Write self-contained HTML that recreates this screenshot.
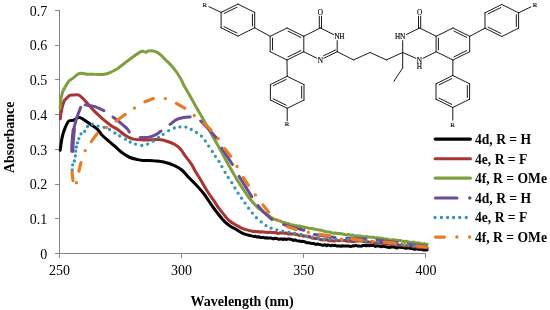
<!DOCTYPE html>
<html lang="en">
<head>
<meta charset="utf-8">
<title>UV-Vis absorbance spectra</title>
<style>
html,body{margin:0;padding:0;background:#fff;}
body{width:550px;height:310px;overflow:hidden;}
svg{display:block;}
</style>
</head>
<body>
<svg width="550" height="310" viewBox="0 0 550 310">
<rect width="550" height="310" fill="#fff"/>
<g stroke="#868686" stroke-width="1" fill="none" shape-rendering="crispEdges">
<path d="M59.5 10.2V253.5"/>
<path d="M59.5 253.5H425.9"/>
<path d="M55.3 253.5H60.0"/>
<path d="M55.3 218.8H60.0"/>
<path d="M55.3 184.1H60.0"/>
<path d="M55.3 149.4H60.0"/>
<path d="M55.3 114.6H60.0"/>
<path d="M55.3 79.9H60.0"/>
<path d="M55.3 45.2H60.0"/>
<path d="M55.3 10.5H60.0"/>
<path d="M59.5 253.5V257.7"/>
<path d="M181.6 253.5V257.7"/>
<path d="M303.8 253.5V257.7"/>
<path d="M425.9 253.5V257.7"/>
</g>
<g font-family="'Liberation Serif', 'Times New Roman', serif" font-size="14" fill="#000">
<text x="47.2" y="258.7" text-anchor="end">0</text>
<text x="47.2" y="224.0" text-anchor="end">0.1</text>
<text x="47.2" y="189.3" text-anchor="end">0.2</text>
<text x="47.2" y="154.6" text-anchor="end">0.3</text>
<text x="47.2" y="119.8" text-anchor="end">0.4</text>
<text x="47.2" y="85.1" text-anchor="end">0.5</text>
<text x="47.2" y="50.4" text-anchor="end">0.6</text>
<text x="47.2" y="15.7" text-anchor="end">0.7</text>
<text x="59.5" y="275.2" text-anchor="middle">250</text>
<text x="181.6" y="275.2" text-anchor="middle">300</text>
<text x="303.8" y="275.2" text-anchor="middle">350</text>
<text x="425.9" y="275.2" text-anchor="middle">400</text>
</g>
<g font-family="'Liberation Serif', 'Times New Roman', serif" font-weight="bold" font-size="14" fill="#000">
<text x="242.1" y="306" text-anchor="middle">Wavelength (nm)</text>
<text transform="translate(13.6 137.3) rotate(-90)" text-anchor="middle">Absorbance</text>
</g>
<g fill="none" stroke-linejoin="round" stroke-linecap="round" stroke-width="3.0">
<path d="M60.2 150.2C60.5 148.1 61.4 141.1 62.1 137.6C62.8 134.1 63.5 132.0 64.5 129.4C65.5 126.9 66.9 123.8 67.8 122.3C68.7 120.8 68.6 121.1 69.7 120.7C70.8 120.3 72.9 120.5 74.2 120.0C75.5 119.5 76.3 118.2 77.4 117.8C78.5 117.4 79.3 117.3 80.7 117.8C82.1 118.3 83.9 119.7 85.8 121.0C87.7 122.3 90.3 124.1 92.3 125.5C94.2 126.9 95.9 127.8 97.5 129.4C99.1 131.0 100.2 133.2 101.9 135.0C103.7 136.8 105.9 138.7 108.0 140.5C110.1 142.3 112.0 143.9 114.5 146.0C117.0 148.1 120.3 151.4 122.9 153.3C125.5 155.2 127.7 156.5 130.0 157.5C132.3 158.5 134.8 159.0 137.0 159.5C139.2 160.0 140.3 160.3 143.0 160.5C145.7 160.7 150.0 160.4 153.4 160.7C156.8 160.9 160.3 161.2 163.7 162.0C167.1 162.8 171.0 164.0 174.0 165.3C177.0 166.6 179.5 168.1 181.8 170.0C184.1 171.9 185.5 174.1 187.8 176.5C190.1 178.9 192.8 181.4 195.5 184.3C198.2 187.2 201.0 190.1 204.0 194.0C207.0 197.9 210.3 203.5 213.6 208.0C216.9 212.5 221.3 218.0 224.0 221.0C226.7 224.0 228.2 224.7 230.0 226.0C231.8 227.3 232.8 227.5 235.0 228.8C237.2 230.1 240.2 232.3 243.4 233.6C246.6 234.9 252.2 236.0 253.9 236.5L255.5 236.3L257.0 237.1L258.6 236.7L260.1 237.4L261.7 237.4L263.3 237.3L264.8 238.0L266.4 237.7L267.8 238.2L269.2 237.9L270.6 238.0L272.0 238.4L273.4 238.9L274.8 238.2L276.2 238.4L277.6 238.9L279.0 239.4L280.4 239.0L281.8 238.9L283.2 239.6L284.6 238.7L286.0 239.6L287.4 239.1L288.9 239.1L290.4 239.2L292.0 239.6L293.5 240.4L295.0 239.8L296.4 240.6L297.9 240.9L299.3 240.9L300.7 241.4L302.2 241.2L303.6 241.4L305.0 241.9L306.5 242.7L307.9 242.7L309.3 242.8L310.8 243.3L312.2 243.4L313.6 243.4L315.1 244.2L316.5 244.3L317.9 244.0L319.4 244.6L320.8 244.7L322.2 245.2L323.7 245.2L325.1 244.8L326.6 245.7L328.0 244.8L329.5 245.3L330.9 245.8L332.4 245.2L333.8 245.7L335.2 245.2L336.7 246.0L338.1 246.1L339.5 245.9L341.0 246.3L342.4 245.7L343.8 246.1L345.3 246.1L346.7 246.1L348.2 245.9L349.7 246.3L351.2 246.4L352.7 245.8L354.2 246.0L355.8 245.3L357.3 246.0L358.8 245.9L360.3 246.2L361.8 246.0L363.3 245.4L364.8 245.5L366.3 245.9L367.8 245.2L369.4 245.8L370.9 245.5L372.4 245.5L373.9 245.5L375.4 246.4L377.0 245.8L378.5 246.0L380.0 246.2L381.4 246.8L382.9 246.0L384.3 246.5L385.7 246.7L387.1 247.2L388.6 247.2L390.0 247.4L391.4 246.8L392.9 247.0L394.3 247.1L395.7 247.7L397.1 247.9L398.6 247.1L400.0 247.2L401.4 247.4L402.9 247.5L404.3 247.9L405.7 248.2L407.2 247.9L408.6 247.7L410.0 248.3L411.5 248.4L412.9 248.7L414.3 249.3L415.7 249.1L417.2 249.0L418.6 249.2L420.0 249.4L421.5 248.8L422.9 249.9L424.3 249.9L425.8 250.1L427.2 249.8" stroke="#000000"/>
<path d="M60.3 118.8C60.4 118.0 60.4 116.2 60.8 114.0C61.2 111.8 62.0 107.8 62.6 105.5C63.2 103.2 64.2 101.0 64.7 100.0C65.2 99.0 65.0 100.0 65.8 99.2C66.6 98.4 68.3 96.1 69.7 95.4C71.1 94.7 72.6 95.0 74.2 95.0C75.8 95.0 77.3 94.2 79.2 95.3C81.1 96.4 83.2 98.9 85.6 101.4C88.0 103.9 90.8 107.5 93.6 110.4C96.4 113.3 99.6 116.2 102.6 118.8C105.6 121.4 109.1 124.1 111.7 125.9C114.3 127.7 115.9 128.2 118.1 129.8C120.3 131.4 122.5 133.6 125.0 135.2C127.5 136.8 129.9 138.3 133.4 139.1C136.9 139.9 141.8 139.9 146.0 140.0C150.2 140.1 155.0 139.4 158.5 139.6C162.0 139.8 164.1 140.3 166.9 141.2C169.7 142.0 173.0 143.4 175.3 144.7C177.6 146.0 179.0 147.4 180.6 149.2C182.2 151.0 183.2 153.1 185.0 155.6C186.8 158.1 189.6 161.2 191.3 163.9C193.1 166.6 193.9 168.7 195.5 171.5C197.1 174.3 199.1 177.3 201.0 180.5C202.9 183.7 204.7 187.2 207.0 190.8C209.3 194.5 213.0 199.4 215.0 202.4C217.0 205.4 217.5 206.4 219.2 208.7C220.9 211.0 223.4 214.0 225.0 216.0C226.6 218.0 227.3 219.1 229.0 220.5C230.7 221.9 232.6 223.1 235.0 224.5C237.4 225.9 240.2 227.6 243.4 228.8C246.6 230.0 252.2 231.1 253.9 231.5L255.5 231.5L257.0 231.7L258.6 231.5L260.1 232.2L261.7 231.7L263.3 231.9L264.8 232.2L266.4 232.3L267.8 232.5L269.2 232.3L270.6 232.3L272.0 232.5L273.4 232.5L274.8 232.8L276.2 232.5L277.6 233.4L279.0 233.2L280.4 232.8L281.8 232.9L283.2 233.1L284.6 233.2L286.0 233.0L287.4 233.7L288.9 234.1L290.3 233.8L291.8 234.1L293.3 233.9L294.7 234.1L296.2 234.6L297.7 234.7L299.1 235.5L300.6 235.1L302.1 235.2L303.5 236.3L305.0 236.1L306.4 236.1L307.9 236.8L309.3 236.6L310.7 237.4L312.2 238.1L313.6 238.3L315.1 238.5L316.5 238.3L317.9 238.7L319.4 238.9L320.8 239.8L322.2 239.7L323.7 240.0L325.1 239.7L326.6 239.7L328.0 240.4L329.5 240.7L330.9 240.7L332.4 240.8L333.8 240.9L335.2 240.9L336.7 240.4L338.1 240.7L339.5 240.5L341.0 240.2L342.4 240.3L343.8 240.5L345.3 240.5L346.7 241.0L348.2 241.3L349.7 240.9L351.2 241.4L352.7 241.5L354.2 241.5L355.8 241.0L357.3 240.9L358.8 241.0L360.3 241.0L361.8 241.1L363.3 241.6L364.8 241.9L366.3 242.0L367.8 241.8L369.4 242.1L370.9 242.4L372.4 241.8L373.9 242.6L375.4 243.0L377.0 243.0L378.5 243.1L380.0 243.0L381.4 242.8L382.9 243.6L384.3 243.3L385.7 243.9L387.1 244.2L388.6 243.8L390.0 243.9L391.4 244.6L392.9 244.5L394.3 244.1L395.7 244.2L397.1 244.4L398.6 245.3L400.0 245.3L401.4 244.8L402.9 245.6L404.3 246.0L405.7 245.8L407.2 245.6L408.6 246.0L410.0 245.7L411.5 245.8L412.9 246.9L414.3 246.7L415.7 246.8L417.2 247.3L418.6 247.0L420.0 247.6L421.5 247.7L422.9 247.2L424.3 247.4L425.8 247.6L427.2 248.0" stroke="#a93431"/>
<path d="M60.1 108.3C60.2 107.1 60.5 103.1 60.8 101.0C61.1 98.9 61.3 97.2 61.7 95.5C62.1 93.8 62.5 92.2 63.0 91.0C63.5 89.8 64.1 89.0 64.6 88.0C65.1 87.0 65.4 86.4 66.2 85.2C67.0 84.0 68.1 81.9 69.2 80.7C70.3 79.5 71.7 79.2 73.1 78.1C74.5 77.0 76.2 75.0 77.6 74.2C79.0 73.4 79.9 73.3 81.5 73.3C83.1 73.3 85.0 74.0 87.3 74.2C89.5 74.4 92.4 74.2 95.0 74.3C97.6 74.3 100.4 74.7 102.8 74.5C105.2 74.3 106.9 73.8 109.3 72.9C111.7 72.0 115.2 70.0 117.0 69.0C118.8 68.0 118.2 68.1 120.0 66.7C121.8 65.3 125.2 62.8 127.8 60.8C130.4 58.8 133.1 56.6 135.5 55.0C137.9 53.4 140.3 51.8 142.0 51.3C143.7 50.8 144.7 52.3 145.8 52.2C146.9 52.1 147.2 51.1 148.4 50.9C149.6 50.7 151.7 51.0 153.0 51.1C154.3 51.2 155.0 51.2 156.2 51.8C157.4 52.3 158.6 53.1 160.1 54.4C161.6 55.7 163.3 57.6 165.2 59.5C167.1 61.4 169.8 63.8 171.7 66.0C173.6 68.2 175.1 70.0 176.8 72.5C178.5 75.0 180.7 78.6 181.8 80.7C183.0 82.8 182.4 82.6 183.7 85.0C185.0 87.4 188.1 92.4 189.5 94.9C190.9 97.4 191.4 98.3 192.3 100.0C193.2 101.7 193.4 102.1 195.0 104.9C196.6 107.7 198.9 111.7 201.8 116.8C204.7 121.9 209.2 130.0 212.3 135.6C215.4 141.2 218.0 145.6 220.6 150.3C223.2 155.0 224.7 158.2 228.0 163.9C231.3 169.7 236.6 179.0 240.2 184.8C243.8 190.6 246.6 194.7 249.6 198.5C252.6 202.3 256.6 206.3 258.0 207.9L259.4 209.1L260.9 209.9L262.3 211.1L263.8 212.0L265.3 213.5L266.8 214.1L268.2 215.2L269.7 216.3L271.2 217.6L272.7 218.2L274.2 219.2L275.7 219.5L277.2 220.1L278.7 220.7L280.2 221.0L281.7 221.9L283.2 222.3L284.7 222.5L286.2 223.5L287.7 223.4L289.2 224.0L290.7 224.6L292.2 224.9L293.7 225.1L295.1 225.5L296.5 225.8L297.9 226.2L299.4 226.0L300.8 226.6L302.2 226.6L303.6 226.9L305.0 227.5L306.4 227.6L307.9 227.9L309.3 228.3L310.7 228.6L312.2 228.6L313.6 229.0L315.1 229.1L316.5 229.4L317.9 229.8L319.4 229.9L320.8 230.2L322.2 230.5L323.7 231.2L325.1 231.3L326.6 231.8L328.0 232.1L329.5 232.0L330.9 232.5L332.4 233.1L333.8 233.3L335.2 233.0L336.7 233.2L338.1 233.6L339.5 233.5L341.0 233.8L342.4 233.8L343.8 234.4L345.3 234.6L346.7 234.9L348.2 234.5L349.7 235.1L351.2 235.2L352.7 235.0L354.2 235.7L355.8 235.9L357.3 235.6L358.8 236.3L360.3 236.0L361.8 236.3L363.3 236.8L364.8 236.8L366.3 236.5L367.8 236.9L369.4 237.1L370.9 237.2L372.4 237.2L373.9 237.5L375.4 237.9L377.0 237.6L378.5 238.2L380.0 238.3L381.4 238.1L382.9 238.5L384.3 238.9L385.7 239.0L387.1 238.9L388.6 239.7L390.0 239.8L391.4 240.1L392.9 239.6L394.3 239.9L395.7 239.9L397.1 240.6L398.6 240.5L400.0 240.5L401.4 240.9L402.9 241.4L404.3 241.6L405.7 241.3L407.2 241.4L408.6 242.2L410.0 242.1L411.5 242.4L412.9 242.1L414.3 242.3L415.7 242.9L417.2 242.9L418.6 242.8L420.0 243.6L421.5 243.6L422.9 243.9L424.3 243.6L425.8 244.3L427.2 244.2" stroke="#7f9f3e"/>
<path d="M72.3 151.0C72.4 149.2 72.5 143.6 72.8 140.0C73.0 136.4 73.6 131.2 73.8 129.5" stroke="#6c4b97" stroke-width="4.2"/>
<path d="M73.6 130.0C74.1 128.1 75.3 122.3 76.5 118.5C77.7 114.7 80.0 109.2 80.7 107.4M85.2 104.9C86.8 105.2 91.9 105.6 95.0 106.6C98.1 107.6 102.4 110.0 103.9 110.7M113.0 117.1C114.2 118.0 117.6 120.5 120.0 122.5C122.4 124.5 125.7 127.2 127.2 128.8C128.7 130.4 128.9 131.5 129.2 132.0M140.1 137.4C141.4 137.4 145.3 137.9 148.0 137.4C150.7 136.9 154.2 135.4 156.4 134.3C158.6 133.2 160.2 131.6 161.0 131.1M170.0 124.4C171.1 123.6 174.1 120.8 176.4 119.6C178.7 118.4 181.4 117.9 183.7 117.5C186.0 117.1 189.1 117.1 190.2 117.0M200.7 121.0C201.9 122.2 205.4 125.7 208.0 128.5C210.6 131.3 215.0 136.2 216.4 137.7M221.7 148.2C223.5 150.9 230.7 161.8 232.5 164.5M239.1 176.4C241.2 179.8 249.7 193.4 251.8 196.8M258.1 205.7C259.1 206.8 261.7 210.2 264.0 212.5C266.3 214.8 270.4 218.2 271.7 219.4M283.6 224.6C285.5 225.2 291.6 227.0 295.0 227.9C298.4 228.8 302.5 229.8 304.0 230.2M314.4 234.4C317.8 234.9 331.6 237.1 335.0 237.6M346.7 238.3C349.9 238.4 362.8 238.8 366.0 238.9M377.0 240.0C380.3 240.4 393.7 242.2 397.0 242.6M408.0 244.3C411.1 244.6 423.4 245.9 426.5 246.2" stroke="#6c4b97"/>
<path d="M72.2 170.0h0.01M72.6 164.8h0.01M74.3 161.0h0.01M75.3 156.0h0.01M75.7 151.2h0.01M76.4 147.0h0.01M77.4 142.8h0.01M78.9 138.6h0.01M81.0 133.8h0.01M84.7 131.3h0.01M87.5 126.5h0.01M92.3 124.2h0.01M98.1 126.1h0.01M104.0 127.3h0.01M109.5 129.5h0.01M114.9 133.0h0.01M119.7 135.9h0.01M125.5 139.2h0.01M130.2 142.0h0.01M135.5 144.1h0.01M141.8 145.4h0.01M147.6 144.1h0.01M153.3 141.2h0.01M158.5 137.4h0.01M163.2 134.3h0.01M168.6 130.7h0.01M174.3 128.0h0.01M179.9 126.9h0.01M185.9 127.1h0.01M191.2 129.4h0.01M196.5 132.5h0.01M201.4 136.1h0.01M205.3 140.9h0.01M208.7 146.1h0.01M212.3 151.4h0.01M215.4 156.3h0.01M219.0 161.4h0.01M221.9 166.6h0.01M225.1 172.3h0.01M228.2 177.5h0.01M231.8 182.7h0.01M234.9 188.0h0.01M238.1 193.2h0.01M241.5 198.2h0.01M245.0 203.1h0.01M248.6 208.2h0.01M252.4 213.1h0.01M256.4 217.7h0.01M261.2 221.9h0.01M266.0 225.6h0.01M271.1 228.2h0.01M276.9 229.8h0.01M282.8 231.1h0.01M288.9 232.1h0.01M294.8 233.2h0.01M300.9 234.5h0.01M306.4 236.3h0.01M312.4 237.2h0.01M318.3 238.3h0.01M324.1 239.3h0.01M329.9 239.3h0.01M336.1 239.5h0.01M342.2 239.8h0.01M348.0 239.3h0.01M354.0 240.0h0.01M360.0 240.5h0.01M366.0 241.0h0.01M372.0 241.5h0.01M378.0 242.0h0.01M384.0 242.5h0.01M390.0 243.3h0.01M396.0 244.0h0.01M402.0 244.6h0.01M408.0 245.2h0.01M414.0 245.9h0.01M420.0 246.6h0.01M426.0 247.3h0.01" stroke="#2f96b6" stroke-width="3.3"/>
<path d="M72.0 172.2C72.2 173.6 72.8 179.2 73.0 180.6M78.9 171.1C79.2 169.7 80.7 164.1 81.0 162.7M91.4 141.4C92.4 140.1 96.3 134.7 97.3 133.4M116.2 121.0C117.7 119.9 123.7 115.6 125.2 114.5M144.9 101.8C146.3 101.3 151.9 99.1 153.3 98.6M176.4 103.4C177.8 104.2 183.3 107.3 184.7 108.1M203.9 123.0C205.1 124.2 210.0 129.2 211.2 130.4M224.8 148.6C225.8 149.9 229.7 155.0 230.7 156.3M243.3 177.6C244.1 178.9 247.5 183.9 248.3 185.2M263.0 204.9C263.9 206.1 267.6 210.8 268.5 212.0M287.4 226.7C288.8 227.1 294.4 228.9 295.8 229.4M319.5 234.4C321.2 234.7 328.2 235.7 329.9 235.9M351.8 238.9C353.5 239.2 360.5 240.2 362.2 240.4M384.5 242.0C386.2 242.2 393.2 243.0 395.0 243.2M416.8 246.0C418.4 246.2 424.9 246.8 426.5 247.0" stroke="#e67d24" stroke-width="3.2"/>
<path d="M76.4 182.7h0.01M85.2 150.6h0.01M106.5 127.5h0.01M134.4 108.1h0.01M165.3 98.6h0.01M194.3 115.5h0.01M218.1 138.8h0.01M237.0 166.4h0.01M255.4 194.9h0.01M278.0 220.4h0.01M308.3 232.2h0.01M341.5 239.3h0.01M373.0 241.4h0.01M404.6 244.6h0.01" stroke="#e67d24" stroke-width="3.4"/>
</g>
<g fill="none" stroke-linecap="round" stroke-width="3.05">
<path d="M435.1 139.1H470.5" stroke="#000"/>
<path d="M435.1 158.7H470.5" stroke="#a93431"/>
<path d="M435.1 178.1H470.5" stroke="#7f9f3e"/>
<path d="M435.4 198H457" stroke="#6c4b97"/>
<path d="M469.8 198h0.01" stroke="#6c4b97" stroke-width="3.5"/>
<path d="M435.0 217.5h0.01M441.4 217.5h0.01M447.6 217.5h0.01M453.6 217.5h0.01M459.7 217.5h0.01M466.2 217.5h0.01" stroke="#2f96b6" stroke-width="3.3"/>
<path d="M435.4 237.1H444.4" stroke="#e67d24"/>
<path d="M456.9 237.1h0.01M469.6 237.1h0.01" stroke="#e67d24" stroke-width="3.5"/>
</g>
<g font-family="'Liberation Serif', 'Times New Roman', serif" font-weight="bold" font-size="13.6" fill="#000">
<text x="475.0" y="143.9">4d, R = H</text>
<text x="475.0" y="163.6">4e, R = F</text>
<text x="475.0" y="183.1">4f, R = OMe</text>
<text x="475.0" y="202.7">4d, R = H</text>
<text x="475.0" y="222.4">4e, R = F</text>
<text x="475.0" y="242.0">4f, R = OMe</text>
</g>
<g transform="translate(0 0.5)">
<g stroke="#1a1a1a" stroke-width="1.0" stroke-linecap="round" fill="none">
<path d="M237.9 3.6L254.7 11.9M254.7 11.9L254.7 27.3M254.7 27.3L237.9 35.6M237.9 35.6L221.1 27.3M221.1 27.3L221.1 11.9M221.1 11.9L237.9 3.6M224.1 13.0L236.9 6.7M252.4 13.7L252.4 25.5M236.9 32.5L224.1 26.2M208.8 6.1L221.1 11.9M287.0 27.5L303.8 35.8M303.8 35.8L303.8 51.2M303.8 51.2L287.0 59.5M287.0 59.5L270.2 51.2M270.2 51.2L270.2 35.8M270.2 35.8L287.0 27.5M288.0 30.6L300.8 36.9M300.8 50.1L288.0 56.4M272.5 49.4L272.5 37.6M254.7 27.3L270.2 35.8M303.6 35.8L320.4 27.5M320.4 27.5L333.6 34.0M337.2 40.1L337.2 51.2M337.2 51.2L324.0 57.7M335.5 49.5L323.6 55.3M316.8 57.7L303.6 51.2M319.3 15.6L319.3 27.5M321.5 15.6L321.5 27.5M287.2 75.8L304.0 84.1M304.0 84.1L304.0 99.5M304.0 99.5L287.2 107.8M287.2 107.8L270.4 99.5M270.4 99.5L270.4 84.1M270.4 84.1L287.2 75.8M273.4 85.2L286.2 78.9M301.7 85.9L301.7 97.7M286.2 104.7L273.4 98.4M287.0 59.5L287.2 75.8M287.2 107.8L287.2 120.4M337.2 51.2L353.6 59.4M353.6 59.4L370.0 52.0M370.0 52.0L386.4 59.4M386.4 59.4L402.7 52.0M406.4 34.0L419.6 27.5M419.6 27.5L436.4 35.8M402.7 40.1L402.7 52.0M402.7 52.0L415.8 57.8M423.0 57.8L436.4 51.2M418.5 15.6L418.5 27.5M420.7 15.6L420.7 27.5M402.7 52.0L402.7 67.4M402.7 67.4L393.9 80.8M452.9 27.5L469.7 35.8M469.7 35.8L469.7 51.2M469.7 51.2L452.9 59.5M452.9 59.5L436.1 51.2M436.1 51.2L436.1 35.8M436.1 35.8L452.9 27.5M453.9 30.6L466.7 36.9M466.7 50.1L453.9 56.4M438.4 49.4L438.4 37.6M501.8 4.0L518.6 12.3M518.6 12.3L518.6 27.7M518.6 27.7L501.8 36.0M501.8 36.0L485.0 27.7M485.0 27.7L485.0 12.3M485.0 12.3L501.8 4.0M488.0 13.4L500.8 7.1M516.3 14.1L516.3 25.9M500.8 32.9L488.0 26.6M469.7 35.8L485.0 27.7M518.6 12.3L530.9 6.4M452.8 75.0L469.6 83.3M469.6 83.3L469.6 98.7M469.6 98.7L452.8 107.0M452.8 107.0L436.0 98.7M436.0 98.7L436.0 83.3M436.0 83.3L452.8 75.0M439.0 84.4L451.8 78.1M467.3 85.1L467.3 96.9M451.8 103.9L439.0 97.6M452.9 59.5L452.8 75.0M452.8 107.0L452.8 119.6"/>
</g>
<g font-family="'Liberation Serif', 'Times New Roman', serif" fill="#111" stroke="#111" stroke-width="0.18" text-anchor="middle">
<text x="204.7" y="6.6" font-size="6.8">R</text>
<text x="320.4" y="14.9" font-size="7.3">O</text>
<text x="336.8" y="38.9" font-size="7.3">N</text>
<text x="341.9" y="38.9" font-size="7.3">H</text>
<text x="320.4" y="62.4" font-size="7.3">N</text>
<text x="287.1" y="125.6" font-size="6.8">R</text>
<text x="419.6" y="14.9" font-size="7.3">O</text>
<text x="402.7" y="38.9" font-size="7.3">N</text>
<text x="397.6" y="38.9" font-size="7.3">H</text>
<text x="419.3" y="62.6" font-size="7.3">N</text>
<text x="419.3" y="68.0" font-size="7.3">H</text>
<text x="535.0" y="6.6" font-size="6.8">R</text>
<text x="452.6" y="126.0" font-size="6.8">R</text>
</g>
</g>
</svg>
</body>
</html>
